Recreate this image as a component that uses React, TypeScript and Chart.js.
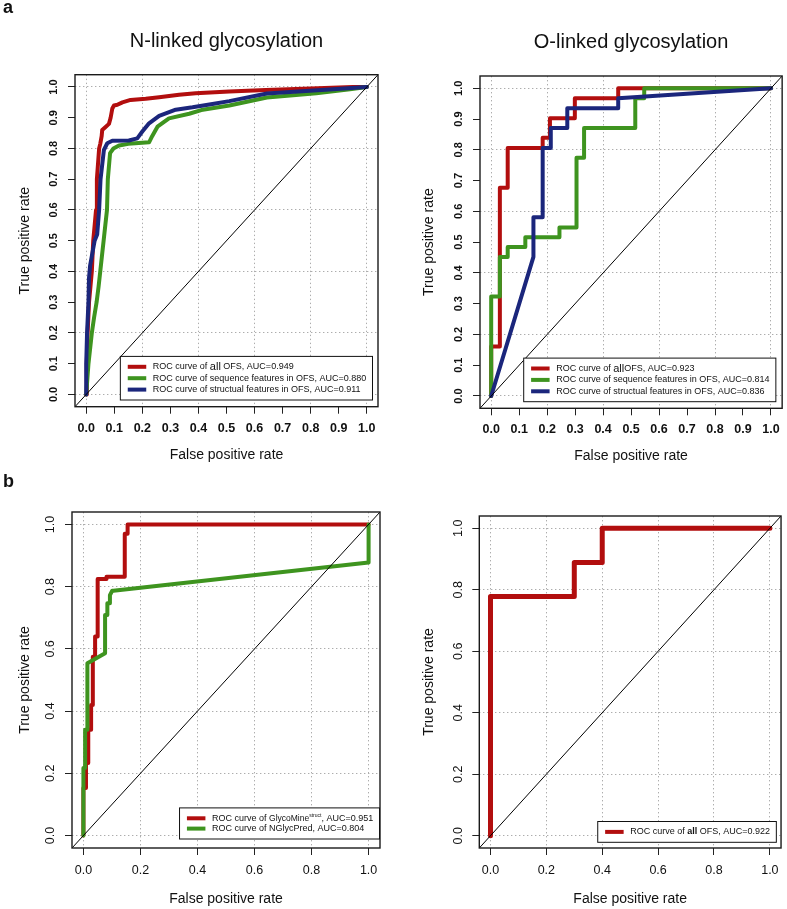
import React, { useEffect, useRef } from "react";
import { Chart, registerables } from "chart.js";

Chart.register(...registerables);

const FONT = "'Liberation Sans', Arial, Helvetica, sans-serif";
Chart.defaults.font.family = FONT;

const RED = "#B20E0E";
const GREEN = "#3E941F";
const BLUE = "#1B267C";
const GRID = "#ADADAD";
const INK = "#111111";

// ---- tick values ----
const TICKS_A = [0, 0.1, 0.2, 0.3, 0.4, 0.5, 0.6, 0.7, 0.8, 0.9, 1.0];
const TICKS_B = [0, 0.2, 0.4, 0.6, 0.8, 1.0];
const DIAG = [-0.04, 1.04];

// ---- a, left: N-linked glycosylation ----
const nAllFpr = [0, 0.002, 0.005, 0.01, 0.015, 0.02, 0.025, 0.03, 0.035, 0.038, 0.042, 0.046, 0.05, 0.055, 0.057, 0.069, 0.081, 0.087, 0.093, 0.099, 0.111, 0.129, 0.158, 0.212, 0.26, 0.331, 0.39, 0.51, 0.64, 0.8, 0.95, 1];
const nAllTpr = [0, 0.1, 0.2, 0.3, 0.35, 0.4, 0.5, 0.55, 0.6, 0.7, 0.75, 0.8, 0.815, 0.84, 0.86, 0.87, 0.88, 0.9, 0.93, 0.94, 0.942, 0.95, 0.958, 0.962, 0.967, 0.975, 0.98, 0.985, 0.99, 0.995, 1, 1];
const nSeqFpr = [0, 0.004, 0.008, 0.02, 0.028, 0.037, 0.044, 0.05, 0.056, 0.062, 0.068, 0.074, 0.077, 0.085, 0.097, 0.117, 0.15, 0.224, 0.235, 0.254, 0.295, 0.367, 0.41, 0.51, 0.644, 0.82, 0.94, 1];
const nSeqTpr = [0, 0.05, 0.1, 0.2, 0.25, 0.3, 0.35, 0.4, 0.45, 0.5, 0.55, 0.6, 0.7, 0.785, 0.8, 0.81, 0.815, 0.82, 0.84, 0.871, 0.898, 0.913, 0.925, 0.94, 0.966, 0.98, 0.993, 1];
const nStrFpr = [0, 0.0, 0.003, 0.008, 0.01, 0.014, 0.02, 0.03, 0.039, 0.046, 0.051, 0.063, 0.075, 0.093, 0.152, 0.182, 0.2, 0.224, 0.26, 0.319, 0.379, 0.45, 0.51, 0.644, 0.88, 1];
const nStrTpr = [0, 0.1, 0.2, 0.3, 0.38, 0.42, 0.45, 0.5, 0.52, 0.6, 0.7, 0.795, 0.817, 0.825, 0.826, 0.833, 0.855, 0.882, 0.906, 0.926, 0.934, 0.945, 0.954, 0.979, 0.993, 1];

// ---- a, right: O-linked glycosylation ----
const oAllFpr = [0, 0, 0.031, 0.031, 0.059, 0.059, 0.184, 0.184, 0.21, 0.21, 0.299, 0.299, 0.454, 0.454, 1];
const oAllTpr = [0, 0.161, 0.161, 0.677, 0.677, 0.806, 0.806, 0.839, 0.839, 0.903, 0.903, 0.968, 0.968, 1, 1];
const oSeqFpr = [0, 0, 0.031, 0.031, 0.059, 0.059, 0.122, 0.122, 0.244, 0.244, 0.305, 0.305, 0.332, 0.332, 0.515, 0.515, 0.547, 0.547, 1];
const oSeqTpr = [0, 0.323, 0.323, 0.452, 0.452, 0.484, 0.484, 0.516, 0.516, 0.548, 0.548, 0.774, 0.774, 0.871, 0.871, 0.968, 0.968, 1, 1];
const oStrFpr = [0, 0.151, 0.151, 0.184, 0.184, 0.213, 0.213, 0.272, 0.272, 0.454, 0.454, 1];
const oStrTpr = [0, 0.452, 0.581, 0.581, 0.806, 0.806, 0.871, 0.871, 0.935, 0.935, 0.968, 1];

// ---- b, left: GlycoMine-struct vs NGlycPred ----
const gmFpr = [0, 0, 0.009, 0.009, 0.017, 0.017, 0.027, 0.027, 0.033, 0.033, 0.041, 0.041, 0.05, 0.05, 0.081, 0.081, 0.145, 0.145, 0.155, 0.155, 1];
const gmTpr = [0, 0.153, 0.153, 0.233, 0.233, 0.34, 0.34, 0.42, 0.42, 0.575, 0.575, 0.64, 0.64, 0.825, 0.825, 0.832, 0.832, 0.97, 0.97, 1, 1];
const ngFpr = [0, 0, 0.006, 0.006, 0.014, 0.014, 0.076, 0.076, 0.084, 0.084, 0.093, 0.093, 0.101, 0.105, 1, 1];
const ngTpr = [0, 0.217, 0.217, 0.34, 0.34, 0.554, 0.586, 0.709, 0.709, 0.747, 0.747, 0.773, 0.787, 0.787, 0.878, 1];

// ---- b, right: O-linked, all OFS ----
const bAllFpr = [0, 0, 0.3, 0.3, 0.4, 0.4, 1];
const bAllTpr = [0, 0.778, 0.778, 0.889, 0.889, 1, 1];

type Seg = { t: string; size?: number; bold?: boolean; rise?: number };
type LegendItem = { color: string; segs: Seg[] };
type Series = { fpr: number[]; tpr: number[]; color: string; width: number };
type Rect = { x: number; y: number; w: number; h: number };
type Box = { l: number; r: number; t: number; b: number };
type PanelDef = {
  canvas: Rect;
  box: Box;
  series: Series[];
  xTicks: number[];
  yTicks: number[];
  xFont: { size: number; weight: string };
  yFont: { size: number; weight: string };
  xPad: number;
  yPad: number;
  xTitlePad: number;
  yTitlePad: number;
  title?: string;
  titleY?: number;
  tag?: string;
  tagX?: number;
  tagY?: number;
  legend: LegendItem[];
  rowH: number;
  insetR: number;
  insetB: number;
};

const PANELS: PanelDef[] = [
  {
    canvas: { x: 0, y: 0, w: 393, h: 465 },
    box: { l: 75, r: 378, t: 74.7, b: 406.7 },
    series: [
      { fpr: nAllFpr, tpr: nAllTpr, color: RED, width: 4 },
      { fpr: nSeqFpr, tpr: nSeqTpr, color: GREEN, width: 4 },
      { fpr: nStrFpr, tpr: nStrTpr, color: BLUE, width: 4 },
    ],
    xTicks: TICKS_A,
    yTicks: TICKS_A,
    xFont: { size: 12.5, weight: "bold" },
    yFont: { size: 11, weight: "bold" },
    xPad: 7,
    yPad: 6.4,
    xTitlePad: 1.6,
    yTitlePad: 16.6,
    title: "N-linked glycosylation",
    titleY: 47.3,
    tag: "a",
    tagX: 3,
    tagY: 13.3,
    legend: [
      { color: RED, segs: [{ t: "ROC curve of " }, { t: "all", size: 11 }, { t: " OFS, AUC=0.949" }] },
      { color: GREEN, segs: [{ t: "ROC curve of sequence features in OFS, AUC=0.880" }] },
      { color: BLUE, segs: [{ t: "ROC curve of structual features in OFS, AUC=0.911" }] },
    ],
    rowH: 11.4,
    insetR: 5.5,
    insetB: 6.7,
  },
  {
    canvas: { x: 393, y: 0, w: 394, h: 465 },
    box: { l: 480, r: 783, t: 76, b: 408.3 },
    series: [
      { fpr: oAllFpr, tpr: oAllTpr, color: RED, width: 4 },
      { fpr: oSeqFpr, tpr: oSeqTpr, color: GREEN, width: 4 },
      { fpr: oStrFpr, tpr: oStrTpr, color: BLUE, width: 4 },
    ],
    xTicks: TICKS_A,
    yTicks: TICKS_A,
    xFont: { size: 12.5, weight: "bold" },
    yFont: { size: 11, weight: "bold" },
    xPad: 7.2,
    yPad: 6.4,
    xTitlePad: 0,
    yTitlePad: 27.6,
    title: "O-linked glycosylation",
    titleY: 47.5,
    legend: [
      { color: RED, segs: [{ t: "ROC curve of " }, { t: "all", size: 11 }, { t: "OFS, AUC=0.923" }] },
      { color: GREEN, segs: [{ t: "ROC curve of sequence features in OFS, AUC=0.814" }] },
      { color: BLUE, segs: [{ t: "ROC curve of structual features in OFS, AUC=0.836" }] },
    ],
    rowH: 11.4,
    insetR: 6.3,
    insetB: 6.6,
  },
  {
    canvas: { x: 0, y: 465, w: 393, h: 444 },
    box: { l: 72, r: 380, t: 512, b: 848 },
    series: [
      { fpr: gmFpr, tpr: gmTpr, color: RED, width: 4 },
      { fpr: ngFpr, tpr: ngTpr, color: GREEN, width: 4 },
    ],
    xTicks: TICKS_B,
    yTicks: TICKS_B,
    xFont: { size: 12.5, weight: "normal" },
    yFont: { size: 12.5, weight: "normal" },
    xPad: 8,
    yPad: 5.3,
    xTitlePad: 1.6,
    yTitlePad: 16.6,
    tag: "b",
    tagX: 3,
    tagY: 22,
    legend: [
      {
        color: RED,
        segs: [{ t: "ROC curve of " }, { t: "GlycoMine", size: 8.5 }, { t: "struct", size: 5, rise: 3 }, { t: ", AUC=0.951" }],
      },
      { color: GREEN, segs: [{ t: "ROC curve of NGlycPred, AUC=0.804" }] },
    ],
    rowH: 10.3,
    insetR: 0.5,
    insetB: 9,
  },
  {
    canvas: { x: 393, y: 465, w: 394, h: 444 },
    box: { l: 479.3, r: 783, t: 516, b: 848 },
    series: [{ fpr: bAllFpr, tpr: bAllTpr, color: RED, width: 5 }],
    xTicks: TICKS_B,
    yTicks: TICKS_B,
    xFont: { size: 12.5, weight: "normal" },
    yFont: { size: 12.5, weight: "normal" },
    xPad: 8.3,
    yPad: 4.6,
    xTitlePad: 1.6,
    yTitlePad: 27.6,
    legend: [{ color: RED, segs: [{ t: "ROC curve of " }, { t: "all", bold: true }, { t: " OFS, AUC=0.922" }] }],
    rowH: 10.3,
    insetR: 4.7,
    insetB: 5.7,
  },
];

function segFont(s: Seg) {
  return `${s.bold ? "bold " : ""}${s.size ?? 9}px ${FONT}`;
}

const decor = {
  id: "decor",
  afterDraw(chart: any, _args: any, opts: any) {
    const { ctx, chartArea: a } = chart;
    ctx.save();
    // plot box
    ctx.strokeStyle = "#1a1a1a";
    ctx.lineWidth = 1.4;
    ctx.setLineDash([]);
    ctx.strokeRect(a.left, a.top, a.right - a.left, a.bottom - a.top);
    ctx.fillStyle = INK;
    if (opts.title) {
      ctx.font = `20px ${FONT}`;
      ctx.textAlign = "center";
      ctx.textBaseline = "alphabetic";
      ctx.fillText(opts.title, (a.left + a.right) / 2, opts.titleY);
    }
    if (opts.tag) {
      ctx.font = `bold 18px ${FONT}`;
      ctx.textAlign = "left";
      ctx.textBaseline = "alphabetic";
      ctx.fillText(opts.tag, opts.tagX, opts.tagY);
    }
    // legend
    const items: LegendItem[] = opts.legend || [];
    if (items.length) {
      ctx.textBaseline = "middle";
      ctx.textAlign = "left";
      const widths = items.map((it) =>
        it.segs.reduce((w, s) => {
          ctx.font = segFont(s);
          return w + ctx.measureText(s.t).width;
        }, 0)
      );
      const textW = Math.max(...widths);
      const padL = 7.4, lineLen = 18.5, gap = 6.6, padR = 6.3, padV = 10.4;
      const w = padL + lineLen + gap + textW + padR;
      const h = padV * 2 + (items.length - 1) * opts.rowH;
      const right = a.right - opts.insetR;
      const bottom = a.bottom - opts.insetB;
      const left = right - w;
      const top = bottom - h;
      ctx.fillStyle = "#ffffff";
      ctx.fillRect(left, top, w, h);
      ctx.strokeStyle = INK;
      ctx.lineWidth = 1;
      ctx.strokeRect(left, top, w, h);
      items.forEach((it, i) => {
        const y = top + padV + i * opts.rowH;
        ctx.strokeStyle = it.color;
        ctx.lineWidth = 4;
        ctx.lineCap = "butt";
        ctx.beginPath();
        ctx.moveTo(left + padL, y);
        ctx.lineTo(left + padL + lineLen, y);
        ctx.stroke();
        let x = left + padL + lineLen + gap;
        ctx.fillStyle = INK;
        it.segs.forEach((s) => {
          ctx.font = segFont(s);
          ctx.fillText(s.t, x, y - (s.rise ?? 0));
          x += ctx.measureText(s.t).width;
        });
      });
    }
    ctx.restore();
  },
};

function gridColor(step: number) {
  return (ctx: any) => {
    const v = ctx.tick ? ctx.tick.value : undefined;
    if (v === undefined) return "transparent";
    const k = Math.round(v / step);
    return Math.abs(k * step - v) < 1e-6 ? GRID : "transparent";
  };
}

function buildConfig(p: PanelDef): any {
  const padTop = p.box.t - p.canvas.y;
  const padRight = p.canvas.x + p.canvas.w - p.box.r;
  const yW = p.box.l - p.canvas.x;
  const xH = p.canvas.y + p.canvas.h - p.box.b;
  const datasets: any[] = [
    {
      data: DIAG.map((v) => ({ x: v, y: v })),
      borderColor: "#000000",
      borderWidth: 1,
      pointRadius: 0,
      order: 0,
    },
    ...p.series.map((s, i) => ({
      data: s.fpr.map((x, j) => ({ x, y: s.tpr[j] })),
      borderColor: s.color,
      borderWidth: s.width,
      pointRadius: 0,
      borderJoinStyle: "round",
      borderCapStyle: "round",
      order: 10 - i,
    })),
  ];
  const tickFmt = (v: any) => Number(v).toFixed(1);
  const gridOpts = {
    color: gridColor(0.2),
    lineWidth: 1,
    drawTicks: true,
    tickLength: 7,
    tickColor: "#222222",
    tickWidth: 1,
    tickBorderDash: [],
  };
  return {
    type: "line",
    data: { datasets },
    plugins: [decor],
    options: {
      responsive: false,
      maintainAspectRatio: false,
      animation: false,
      events: [],
      layout: { padding: { top: padTop, right: padRight, left: 0, bottom: 0 } },
      elements: { line: { tension: 0, fill: false } },
      plugins: {
        legend: { display: false },
        tooltip: { enabled: false },
        title: { display: false },
        decor: {
          title: p.title,
          titleY: p.titleY,
          tag: p.tag,
          tagX: p.tagX,
          tagY: p.tagY,
          legend: p.legend,
          rowH: p.rowH,
          insetR: p.insetR,
          insetB: p.insetB,
        },
      },
      scales: {
        x: {
          type: "linear",
          min: -0.04,
          max: 1.04,
          afterBuildTicks: (s: any) => {
            s.ticks = p.xTicks.map((v) => ({ value: v }));
          },
          afterFit: (s: any) => {
            s.height = xH;
          },
          ticks: {
            autoSkip: false,
            minRotation: 0,
            maxRotation: 0,
            padding: p.xPad,
            color: INK,
            font: { size: p.xFont.size, weight: p.xFont.weight },
            callback: tickFmt,
          },
          grid: gridOpts,
          border: { display: false, dash: [1.4, 2.6] },
          title: {
            display: true,
            text: "False positive rate",
            color: INK,
            font: { size: 14 },
            padding: { top: 0, bottom: p.xTitlePad },
          },
        },
        y: {
          type: "linear",
          min: -0.04,
          max: 1.04,
          afterBuildTicks: (s: any) => {
            s.ticks = p.yTicks.map((v) => ({ value: v }));
          },
          afterFit: (s: any) => {
            s.width = yW;
          },
          ticks: {
            autoSkip: false,
            minRotation: 90,
            maxRotation: 90,
            crossAlign: "center",
            padding: p.yPad,
            color: INK,
            font: { size: p.yFont.size, weight: p.yFont.weight },
            callback: tickFmt,
          },
          grid: gridOpts,
          border: { display: false, dash: [1.4, 2.6] },
          title: {
            display: true,
            text: "True positive rate",
            color: INK,
            font: { size: 14 },
            padding: { top: p.yTitlePad, bottom: 0 },
          },
        },
      },
    },
  };
}

function RocPanel({ panel }: { panel: PanelDef }) {
  const ref = useRef<HTMLCanvasElement>(null);
  useEffect(() => {
    if (!ref.current) return;
    const chart = new Chart(ref.current, buildConfig(panel));
    return () => chart.destroy();
  }, [panel]);
  const c = panel.canvas;
  return (
    <canvas
      ref={ref}
      width={c.w}
      height={c.h}
      style={{ position: "absolute", left: c.x, top: c.y, width: c.w, height: c.h }}
    />
  );
}

export default function App() {
  return (
    <div
      style={{
        position: "absolute",
        left: 0,
        top: 0,
        width: 787,
        height: 909,
        background: "#ffffff",
        overflow: "hidden",
      }}
    >
      {PANELS.map((p, i) => (
        <RocPanel key={i} panel={p} />
      ))}
    </div>
  );
}
